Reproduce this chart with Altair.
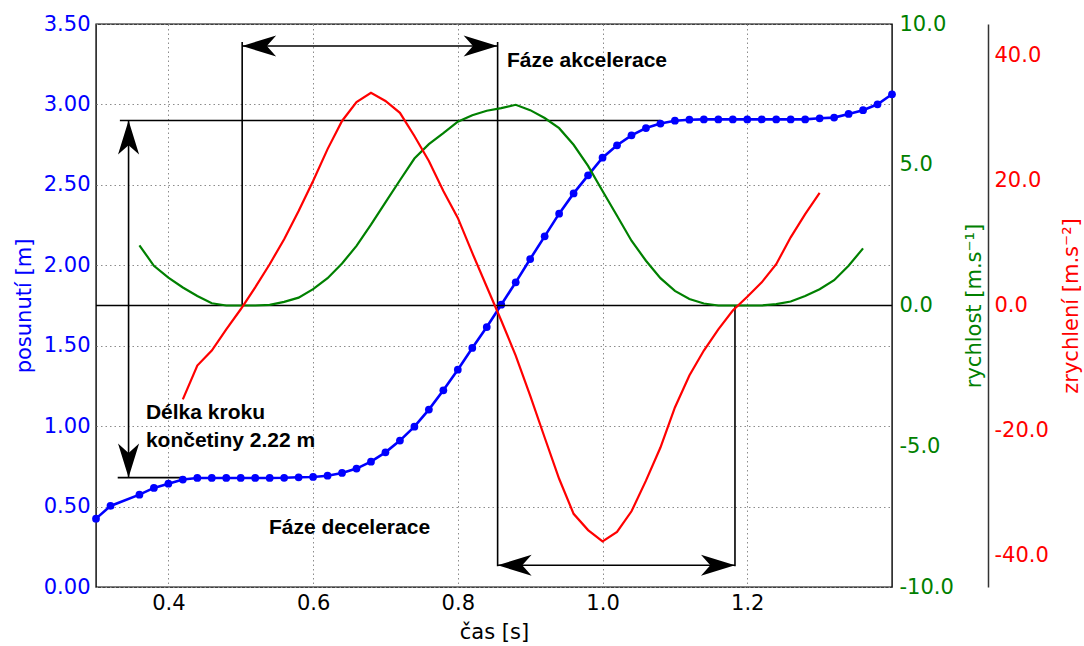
import altair as alt
import pandas as pd

# ---- measured series ----------------------------------------------------
# displacement (m), sampled every 0.02 s (sample at 0.34 s missing)
t_pos = [0.30, 0.32, 0.36, 0.38, 0.40, 0.42, 0.44, 0.46, 0.48, 0.50,
         0.52, 0.54, 0.56, 0.58, 0.60, 0.62, 0.64, 0.66, 0.68, 0.70,
         0.72, 0.74, 0.76, 0.78, 0.80, 0.82, 0.84, 0.86, 0.88, 0.90,
         0.92, 0.94, 0.96, 0.98, 1.00, 1.02, 1.04, 1.06, 1.08, 1.10,
         1.12, 1.14, 1.16, 1.18, 1.20, 1.22, 1.24, 1.26, 1.28, 1.30,
         1.32, 1.34, 1.36, 1.38, 1.40]
pos = [0.425, 0.504, 0.574, 0.616, 0.642, 0.668, 0.678, 0.678, 0.678, 0.678,
       0.678, 0.678, 0.679, 0.682, 0.684, 0.692, 0.709, 0.736, 0.779, 0.837,
       0.910, 0.997, 1.103, 1.223, 1.351, 1.486, 1.616, 1.755, 1.894, 2.039,
       2.180, 2.321, 2.447, 2.559, 2.669, 2.746, 2.808, 2.853, 2.881, 2.899,
       2.905, 2.907, 2.907, 2.907, 2.907, 2.907, 2.907, 2.907, 2.907, 2.914,
       2.918, 2.941, 2.964, 3.001, 3.063]

# velocity (m/s)
t_vel = [0.36, 0.38, 0.40, 0.42, 0.44, 0.46, 0.48, 0.50, 0.52, 0.54,
         0.56, 0.58, 0.60, 0.62, 0.64, 0.66, 0.68, 0.70, 0.72, 0.74,
         0.76, 0.78, 0.80, 0.82, 0.84, 0.86, 0.88, 0.90, 0.92, 0.94,
         0.96, 0.98, 1.00, 1.02, 1.04, 1.06, 1.08, 1.10, 1.12, 1.14,
         1.16, 1.18, 1.20, 1.22, 1.24, 1.26, 1.28, 1.30, 1.32, 1.34, 1.36]
vel = [2.14, 1.41, 0.99, 0.64, 0.34, 0.08, 0.00, 0.00, 0.00, 0.02,
       0.13, 0.28, 0.58, 0.97, 1.49, 2.12, 2.87, 3.66, 4.45, 5.22,
       5.73, 6.12, 6.53, 6.76, 6.92, 7.01, 7.13, 6.94, 6.66, 6.30,
       5.71, 4.96, 4.07, 3.19, 2.30, 1.59, 0.97, 0.52, 0.23, 0.07,
       0.00, 0.00, 0.00, 0.00, 0.05, 0.14, 0.34, 0.58, 0.90, 1.41, 2.03]

# acceleration (m/s^2)
t_acc = [0.42, 0.44, 0.46, 0.48, 0.50, 0.52, 0.54, 0.56, 0.58, 0.60,
         0.62, 0.64, 0.66, 0.68, 0.70, 0.72, 0.74, 0.76, 0.78, 0.80,
         0.82, 0.84, 0.86, 0.88, 0.90, 0.92, 0.94, 0.96, 0.98, 1.00,
         1.02, 1.04, 1.06, 1.08, 1.10, 1.12, 1.14, 1.16, 1.18, 1.20,
         1.22, 1.24, 1.26, 1.28, 1.30]
acc = [-15.0, -9.6, -7.2, -3.8, -0.6, 2.9, 6.6, 10.6, 15.1, 19.9,
       25.0, 29.5, 32.5, 34.0, 32.7, 30.8, 27.1, 23.1, 18.3, 14.0,
       8.4, 3.0, -2.4, -8.0, -14.4, -21.1, -27.7, -33.3, -35.9, -37.7,
       -36.2, -32.9, -28.0, -22.7, -16.3, -11.2, -7.2, -3.8, -0.8, 1.4,
       3.7, 6.6, 10.9, 14.6, 18.0]

# ---- annotation geometry (time / displacement units) --------------------
seg_t = [0.333, 0.330, 0.345, 0.502, 0.855, 1.183, 0.502, 0.855]
seg_t2 = [1.080, 0.418, 0.345, 0.502, 0.855, 1.183, 0.855, 1.183]
seg_s = [2.90, 0.68, 0.68, 1.753, 0.129, 0.129, 3.363, 0.135]
seg_s2 = [2.90, 0.68, 2.90, 3.388, 3.388, 1.753, 3.363, 0.135]

head_t = [0.502, 0.855, 0.855, 1.183, 0.345, 0.345]
head_s = [3.363, 3.363, 0.135, 0.135, 2.90, 0.68]
head_angle = [180, 0, 180, 0, 270, 90]

label_text = ["Fáze akcelerace", "Fáze decelerace", "Délka kroku", "končetiny 2.22 m"]
label_t = [0.868, 0.539, 0.369, 0.369]
label_s = [3.27, 0.367, 1.08, 0.91]

x_ticks = [0.4, 0.6, 0.8, 1.0, 1.2]
pos_ticks = [0.0, 0.5, 1.0, 1.5, 2.0, 2.5, 3.0, 3.5]
vel_ticks = [-10, -5, 0, 5, 10]
acc_ticks = [-40, -20, 0, 20, 40]

BLUE, GREEN, RED = "#0000ff", "#008000", "#ff0000"
FONT = "DejaVu Sans"
W, H = 796, 563
GRID = dict(grid=True, gridDash=[1.5, 3], gridColor="#8c8c8c", gridWidth=1)
ONE_DEC = "replace(format(datum.value, '.1f'), '\u2212', '-')"

df_pos = pd.DataFrame({"t": t_pos, "s": pos})
df_vel = pd.DataFrame({"t": t_vel, "v": vel})
df_acc = pd.DataFrame({"t": t_acc, "a": acc})
df_seg = pd.DataFrame({"t": seg_t, "t2": seg_t2, "s": seg_s, "s2": seg_s2})
df_head = pd.DataFrame({"t": head_t, "s": head_s, "ang": head_angle})
df_lab = pd.DataFrame({"t": label_t, "s": label_s, "txt": label_text})

X = alt.X(
    "t:Q",
    scale=alt.Scale(domain=[0.3, 1.4], nice=False, zero=False),
    axis=alt.Axis(
        values=x_ticks, format=".1f", title="čas [s]", **GRID,
        domain=False, ticks=False, tickSize=0, labelPadding=5,
        labelColor="black", labelFont=FONT, labelFontSize=21,
        titleFont=FONT, titleFontSize=21, titleFontWeight="normal",
        titleColor="black", titleX=W / 2, titleY=45,
        titleAlign="center", titleBaseline="middle",
    ),
)

Y_POS = alt.Y(
    "s:Q",
    scale=alt.Scale(domain=[0, 3.5], nice=False, zero=False),
    axis=alt.Axis(
        orient="left", values=pos_ticks, format=".2f", title="posunutí [m]", **GRID,
        domain=False, ticks=False, tickSize=0, labelPadding=6,
        labelColor=BLUE, labelFont=FONT, labelFontSize=21,
        titleFont=FONT, titleFontSize=21, titleFontWeight="normal",
        titleColor=BLUE, titleAngle=270, titleX=-72, titleY=H / 2,
        titleAlign="center", titleBaseline="middle",
    ),
)

Y_VEL = alt.Y(
    "v:Q",
    scale=alt.Scale(domain=[-10, 10], nice=False, zero=False),
    axis=alt.Axis(
        orient="right", values=vel_ticks, labelExpr=ONE_DEC,
        title="rychlost [m.s⁻¹]", grid=False,
        domain=False, ticks=False, tickSize=0, labelPadding=7,
        labelColor=GREEN, labelFont=FONT, labelFontSize=21,
        titleFont=FONT, titleFontSize=21, titleFontWeight="normal",
        titleColor=GREEN, titleAngle=270, titleX=82, titleY=H / 2,
        titleAlign="center", titleBaseline="middle",
    ),
)

Y_ACC = alt.Y(
    "a:Q",
    scale=alt.Scale(domain=[-45, 45], nice=False, zero=False),
    axis=alt.Axis(
        orient="right", offset=96, values=acc_ticks, labelExpr=ONE_DEC,
        title="zrychlení [m.s⁻²]", grid=False,
        domain=True, domainColor="#333333", domainWidth=1.5,
        ticks=False, tickSize=0, labelPadding=6,
        labelColor=RED, labelFont=FONT, labelFontSize=21,
        titleFont=FONT, titleFontSize=21, titleFontWeight="normal",
        titleColor=RED, titleAngle=270, titleX=83, titleY=H / 2,
        titleAlign="center", titleBaseline="middle",
    ),
)

# black guide lines, arrows and captions drawn in displacement units
segments = alt.Chart(df_seg).mark_rule(color="black", strokeWidth=1.6).encode(
    x=X, x2="t2:Q", y=Y_POS, y2="s2:Q"
)
ARROW = "M0,0 L-2,-0.62 L-1.45,0 L-2,0.62 Z"
heads = alt.Chart(df_head).mark_point(
    shape=ARROW, filled=True, size=1156, color="black", opacity=1, strokeWidth=0
).encode(x=X, y=Y_POS, angle=alt.Angle("ang:Q", scale=None))
captions = alt.Chart(df_lab).mark_text(
    align="left", baseline="middle", font="Liberation Sans",
    fontWeight="bold", fontSize=21, color="black"
).encode(x=X, y=Y_POS, text="txt:N")

pos_line = alt.Chart(df_pos).mark_line(color=BLUE, strokeWidth=2.6).encode(x=X, y=Y_POS)
pos_dots = alt.Chart(df_pos).mark_circle(color=BLUE, size=60, opacity=1).encode(x=X, y=Y_POS)

pos_group = alt.layer(segments, heads, captions, pos_line, pos_dots)

zero_line = alt.Chart(pd.DataFrame({"v": [0.0]})).mark_rule(
    color="black", strokeWidth=1.4
).encode(y=Y_VEL)
vel_line = alt.Chart(df_vel).mark_line(color=GREEN, strokeWidth=2.2).encode(x=X, y=Y_VEL)
vel_group = alt.layer(zero_line, vel_line)

acc_line = alt.Chart(df_acc).mark_line(color=RED, strokeWidth=2.2).encode(x=X, y=Y_ACC)

chart = (
    alt.layer(pos_group, vel_group, acc_line)
    .resolve_scale(y="independent")
    .properties(
        width=W,
        height=H,
        autosize=alt.AutoSizeParams(type="none"),
        padding={"left": 96, "top": 24, "right": 192, "bottom": 59},
        background="white",
    )
    .configure_view(stroke="black", strokeWidth=1.4)
)

chart.save("out.html", embed_options={"renderer": "svg", "actions": False})
